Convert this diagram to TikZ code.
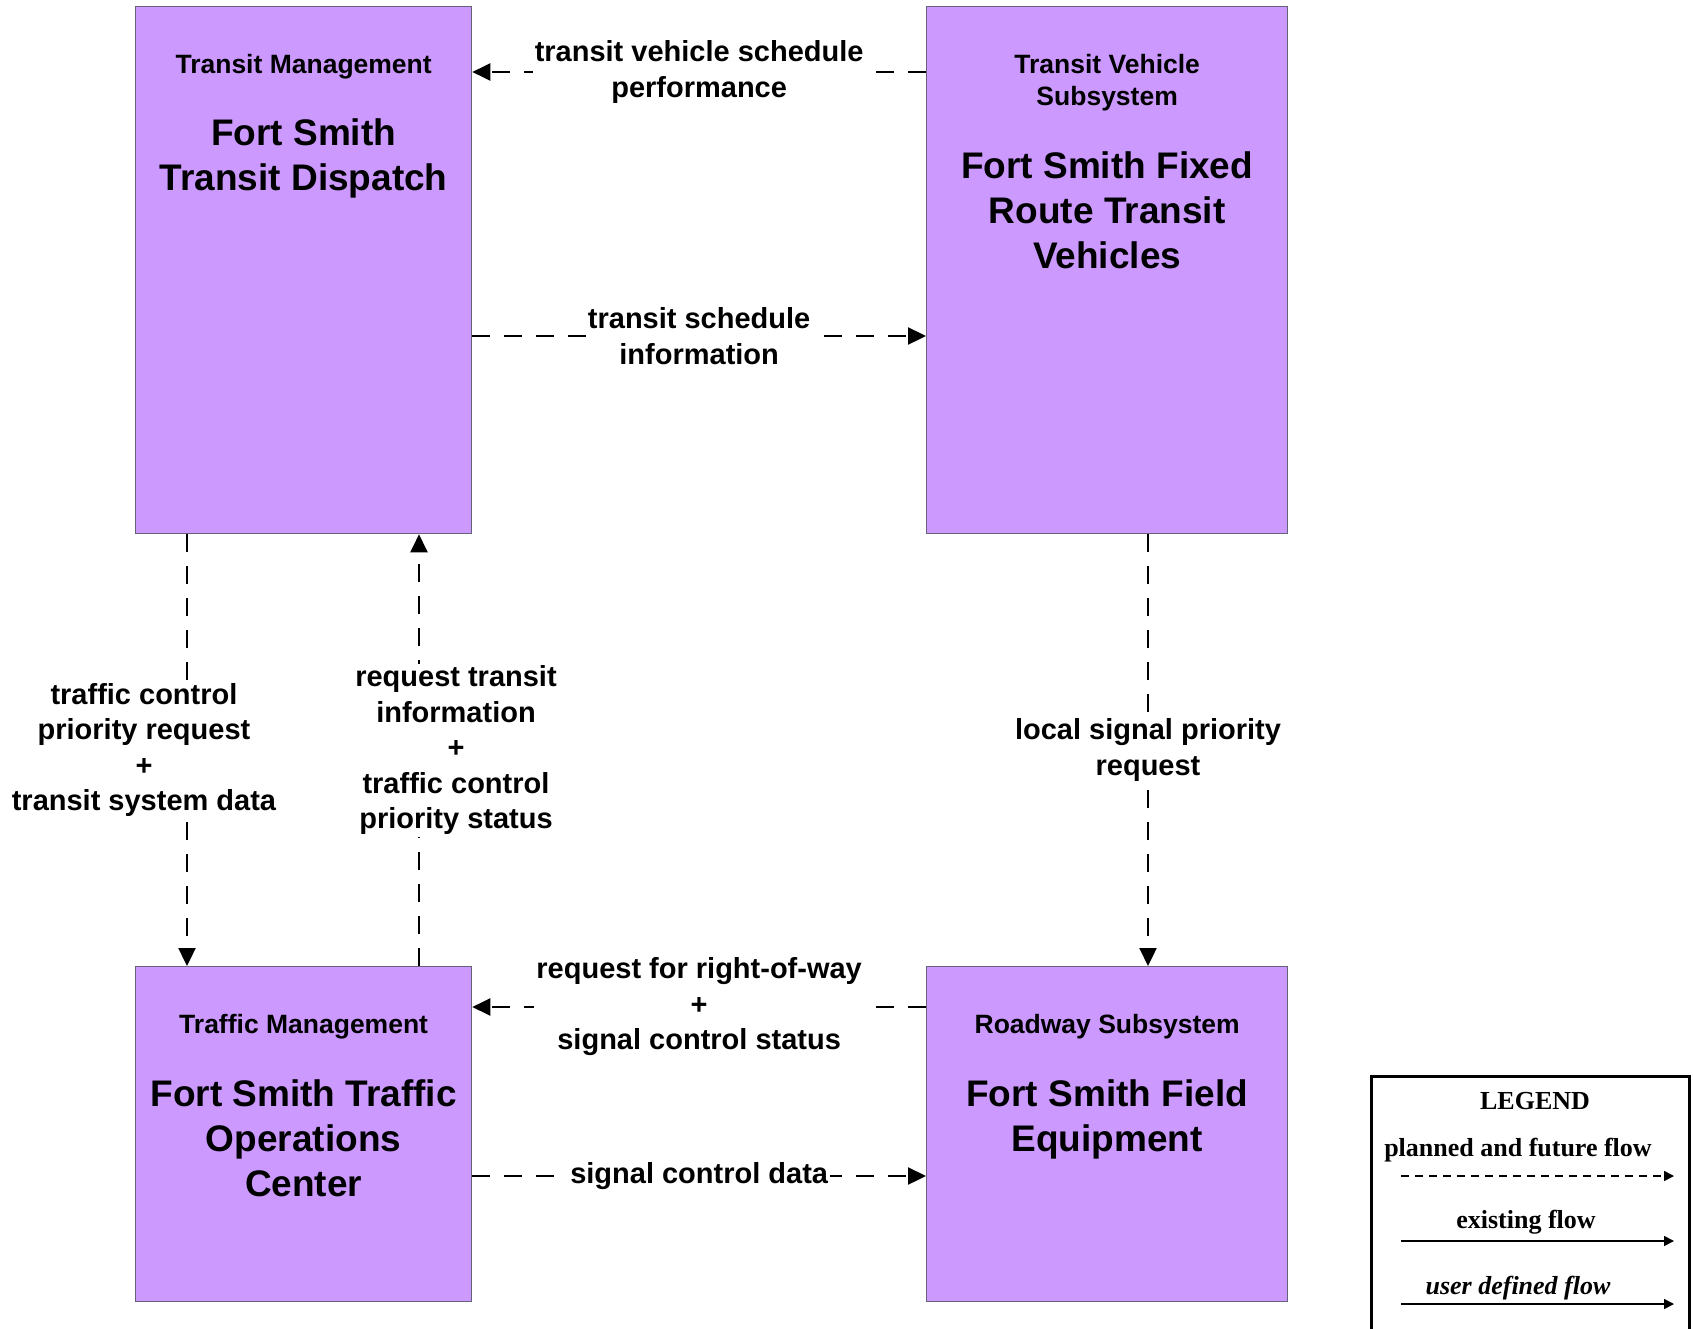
\documentclass[tikz,border=0pt]{standalone}
\usepackage{fontspec}
\setmainfont{Liberation Sans}
\newfontfamily\legfont{Liberation Serif}
\usetikzlibrary{arrows.meta,positioning}
\definecolor{boxfill}{HTML}{CC99FF}
\definecolor{boxline}{HTML}{66627A}
\tikzset{
    box/.style={draw=boxline, fill=boxfill, line width=1.3pt, anchor=north west, inner sep=0pt}, % subsystem box
    hdr/.style={font=\bfseries\fontsize{26.5}{32}\selectfont, align=center}, % small class name
    ttl/.style={font=\bfseries\fontsize{37}{45}\selectfont, align=center}, % element name
    flow/.style={line width=2.3pt, dash pattern=on 18pt off 14pt, -{Triangle[length=18pt, width=17pt]}},
    lbl/.style={font=\bfseries\fontsize{29}{35.5}\selectfont, align=center, fill=white, inner sep=2pt},
    leg/.style={font=\legfont\bfseries\fontsize{26}{30}\selectfont},
    legflow/.style={line width=1.6pt, -{Triangle[length=10pt, width=10pt]}}
}

\begin{document}
\begin{tikzpicture}[x=1pt, y=-1pt]
    \useasboundingbox (0,0) rectangle (1693,1329);

    % subsystems
    \node[box, minimum width=336pt, minimum height=527pt] (tmd) at (135,6) {};
    \node[box, minimum width=361pt, minimum height=527pt] (tvs) at (926,6) {};
    \node[box, minimum width=336pt, minimum height=335pt] (toc) at (135,966) {};
    \node[box, minimum width=361pt, minimum height=335pt] (rs) at (926,966) {};

    \node[hdr] (tmdhdr) at ([yshift=-61pt]tmd.north) {Transit Management};
    \node[ttl] (tmdttl) at ([yshift=-152.5pt]tmd.north) {Fort Smith\\Transit Dispatch};
    \node[hdr] (tvshdr) at ([yshift=-76.5pt]tvs.north) {Transit Vehicle\\Subsystem};
    \node[ttl] (tvsttl) at ([yshift=-204pt]tvs.north) {Fort Smith Fixed\\Route Transit\\Vehicles};
    \node[hdr] (tochdr) at ([yshift=-61pt]toc.north) {Traffic Management};
    \node[ttl] (tocttl) at ([yshift=-172pt]toc.north) {Fort Smith Traffic\\Operations\\Center};
    \node[hdr] (rshdr) at ([yshift=-61pt]rs.north) {Roadway Subsystem};
    \node[ttl] (rsttl) at ([yshift=-153.5pt]rs.north) {Fort Smith Field\\Equipment};

    % flows
    \draw[flow] ([yshift=-66pt]tvs.north west) -- node[lbl] (tvsplbl) {transit vehicle schedule\\performance} ([yshift=-66pt]tmd.north east);
    \draw[flow] ([yshift=-330pt]tmd.north east) -- node[lbl] (tsilbl) {transit schedule\\information} ([yshift=-330pt]tvs.north west);
    \draw[flow] ([xshift=52pt]tmd.south west) -- node[lbl, xshift=-43pt] (tcprlbl) {traffic control\\priority request\\+\\transit system data} ([xshift=52pt]toc.north west);
    \draw[flow] ([xshift=284pt]toc.north west) -- node[lbl, xshift=37pt] (rtilbl) {request transit\\information\\+\\traffic control\\priority status} ([xshift=284pt]tmd.south west);
    \draw[flow] ([xshift=222pt]tvs.south west) -- node[lbl] (lsprlbl) {local signal priority\\request} ([xshift=222pt]rs.north west);
    \draw[flow] ([yshift=-41pt]rs.north west) -- node[lbl] (rowlbl) {request for right-of-way\\+\\signal control status} ([yshift=-41pt]toc.north east);
    \draw[flow] ([yshift=-210pt]toc.north east) -- node[lbl] (scdlbl) {signal control data} ([yshift=-210pt]rs.north west);

    % legend
    \node[draw, line width=3pt, minimum width=318pt, minimum height=280pt, anchor=north west, inner sep=0pt] (legend) at (1370,1075) {};
    \node[leg] (legtitle) at (1535,1101) {LEGEND};
    \node[leg] (legplan) at (1518,1150) {planned and future flow};
    \draw[legflow, dash pattern=on 8pt off 6pt] ([xshift=31pt, yshift=-101pt]legend.north west) -- ([xshift=304pt, yshift=-101pt]legend.north west);
    \node[leg] (legexist) at (1526,1222) {existing flow};
    \draw[legflow] ([xshift=31pt, yshift=-166pt]legend.north west) -- ([xshift=304pt, yshift=-166pt]legend.north west);
    \node[leg, font=\legfont\bfseries\itshape\fontsize{26}{30}\selectfont] (leguser) at (1518,1288) {user defined flow};
    \draw[legflow] ([xshift=31pt, yshift=-229pt]legend.north west) -- ([xshift=304pt, yshift=-229pt]legend.north west);
\end{tikzpicture}
\end{document}
